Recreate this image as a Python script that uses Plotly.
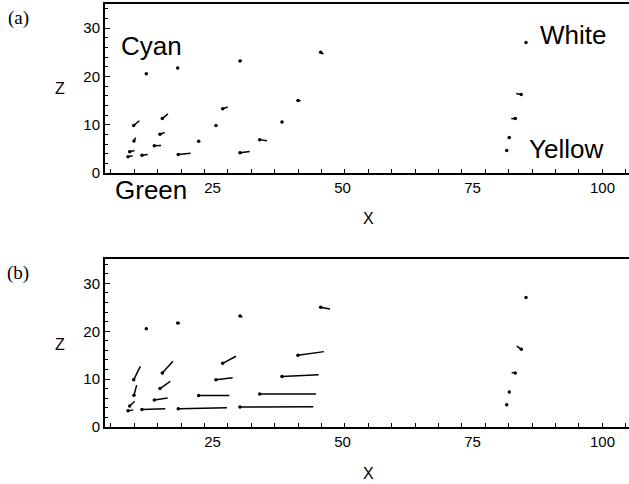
import plotly.graph_objects as go

# ---- data ----
base_x = [12.27, 18.31, 9.85, 15.35, 9.90, 14.90, 9.08, 13.81, 8.75, 11.44, 18.42, 22.35, 25.67,
          26.96, 30.29, 45.81, 41.44, 38.37, 34.08, 30.29, 85.29, 84.38, 83.23, 82.08, 81.58]
base_z = [20.53, 21.73, 9.85, 11.26, 6.63, 8.04, 4.38, 5.64, 3.37, 3.68, 3.83, 6.57, 9.85,
          13.31, 23.20, 25.01, 14.99, 10.57, 6.91, 4.17, 27.05, 16.25, 11.26, 7.33, 4.67]

# panel (a) displacement vectors
dx_a = [0, 0, 1.10, 1.08, 0.33, 0.90, 0.90, 1.29, 0.88, 1.10, 2.38, 0, 0,
        0.96, 0.33, 0.52, 0.52, 0, 1.40, 1.87, 0, -0.96, -0.77, -0.27, 0]
dz_a = [0, 0, 0.97, 0.97, 0.68, 0.35, 0.29, 0.06, 0.21, 0.14, 0.27, 0, 0,
        0.35, 0.14, -0.41, 0, 0, -0.21, 0.29, 0, 0.21, 0, -0.20, 0]

# panel (b) displacement vectors
dx_b = [0, 0.44, 1.27, 2.05, 0.52, 1.98, 0.96, 2.57, 1.02, 4.48, 9.37, 5.88, 3.21,
        2.56, 0.44, 1.79, 5.00, 7.05, 10.82, 14.09, 0, -0.88, -0.69, 0, 0]
dz_b = [0, -0.10, 2.82, 2.47, 2.11, 1.48, 0.99, 0.42, 0.21, 0.15, 0.21, 0, 0.42,
        1.47, -0.21, -0.34, 0.76, 0.34, 0, 0.08, 0, 0.63, 0.15, 0, 0]

x_ticks = [25, 50, 75, 100]
z_ticks = [0, 10, 20, 30]
panel_labels = ["(a)", "(b)"]
region_labels = ["Cyan", "White", "Yellow", "Green"]

X_RANGE = [4.33, 105.1]
Z_RANGE = [0, 35]


def segments(bx, bz, dx, dz):
    xs, zs = [], []
    for x0, z0, u, v in zip(bx, bz, dx, dz):
        xs += [x0, x0 + u, None]
        zs += [z0, z0 + v, None]
    return xs, zs


fig = go.Figure()
for i, (dx, dz) in enumerate([(dx_a, dz_a), (dx_b, dz_b)]):
    xa = "x" if i == 0 else "x2"
    ya = "y" if i == 0 else "y2"
    sx, sz = segments(base_x, base_z, dx, dz)
    fig.add_trace(go.Scatter(x=sx, y=sz, mode="lines", line=dict(color="black", width=1.5),
                             xaxis=xa, yaxis=ya, showlegend=False, hoverinfo="skip"))
    fig.add_trace(go.Scatter(x=base_x, y=base_z, mode="markers",
                             marker=dict(color="black", size=3.5),
                             xaxis=xa, yaxis=ya, showlegend=False))

tickfont = dict(family="Liberation Sans, Arial, sans-serif", size=15, color="black")
xax = dict(range=X_RANGE, tickvals=x_ticks, ticks="", showline=True, linewidth=2,
           linecolor="black", mirror=True, showgrid=False, zeroline=False, tickfont=tickfont,
           ticklabelstandoff=0,
           minor=dict(ticks="inside", tick0=5.48, dtick=4.5, ticklen=4, tickcolor="black",
                      showgrid=False))
yax = dict(range=Z_RANGE, tickvals=z_ticks, ticks="inside", ticklen=5, tickcolor="black",
           showline=True, linewidth=2, linecolor="black", mirror=False, showgrid=False,
           zeroline=False, tickfont=tickfont, ticklabelstandoff=0,
           minor=dict(ticks="inside", dtick=2, ticklen=3, tickcolor="black", showgrid=False))

fig.update_layout(
    width=629, height=484,
    margin=dict(l=105, r=0, t=4, b=57),
    paper_bgcolor="white", plot_bgcolor="white",
    xaxis=dict(xax, domain=[0, 1], anchor="y"),
    yaxis=dict(yax, domain=[0.6005, 1.0], anchor="x"),
    xaxis2=dict(xax, domain=[0, 1], anchor="y2"),
    yaxis2=dict(yax, domain=[0.0, 0.396], anchor="x2"),
)

big = dict(family="Liberation Sans, Arial, sans-serif", size=26, color="black")
ann = []
# region labels in panel (a)
for txt, px, py in zip(region_labels, [0.0878, 0.893, 0.879, 0.0887], [0.9007, 0.9267, 0.657, 0.5603]):
    ann.append(dict(text=txt, x=px, y=py, xref="paper", yref="paper", showarrow=False,
                    xanchor="center", yanchor="middle", font=big))
# panel labels
for txt, py in zip(panel_labels, [0.967, 0.364]):
    ann.append(dict(text=txt, x=-0.166, y=py, xref="paper", yref="paper", showarrow=False,
                    xanchor="center", yanchor="middle",
                    font=dict(family="Liberation Serif, Times New Roman, serif", size=19,
                              color="black")))
# axis titles
axfont = dict(family="Liberation Sans, Arial, sans-serif", size=16, color="black")
for py in [0.801, 0.194]:
    ann.append(dict(text="Z", x=-0.085, y=py, xref="paper", yref="paper", showarrow=False,
                    xanchor="center", yanchor="middle", font=axfont))
for py in [0.492, -0.109]:
    ann.append(dict(text="X", x=0.502, y=py, xref="paper", yref="paper", showarrow=False,
                    xanchor="center", yanchor="middle", font=axfont))
fig.update_layout(annotations=ann)

fig.write_html("out.html", config={"displayModeBar": False},
               post_script="document.body.style.margin='0';")
